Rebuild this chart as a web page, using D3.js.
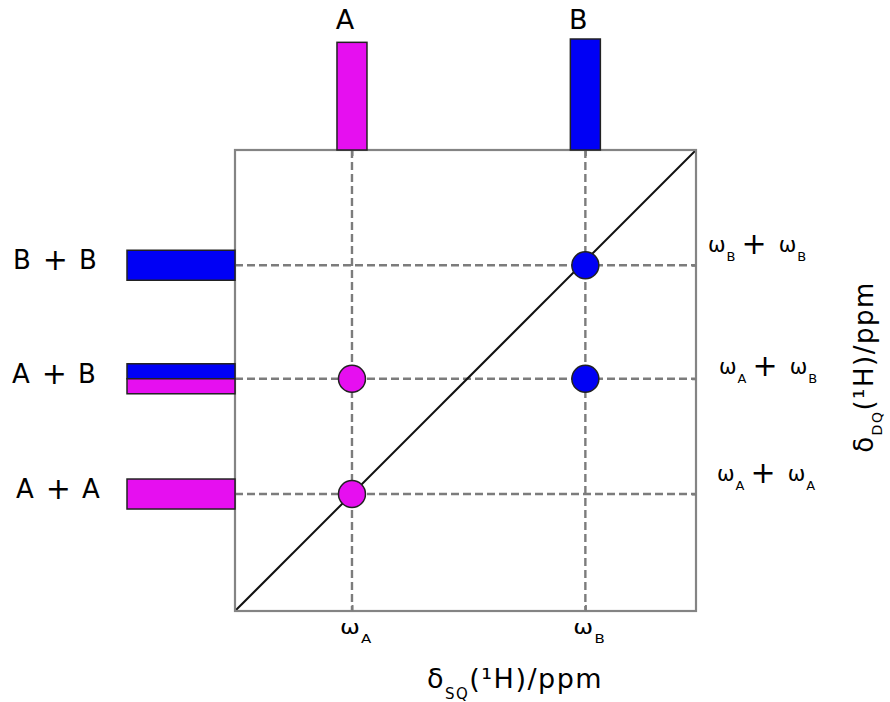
<!DOCTYPE html>
<html>
<head>
<meta charset="utf-8">
<script src="https://cdn.jsdelivr.net/npm/d3@7"></script>
<style>
  body { margin: 0; background: #fff; }
  text { font-family: "DejaVu Sans", Verdana, sans-serif; fill: #000; }
</style>
</head>
<body>
<svg id="chart"></svg>
<script>
// single-quantum sites
const sqLabels = ['A', 'B'];
const sqShift = [1.015, 3.04];       // ppm
const sqIntensity = [0.97, 1.0];

// double-quantum pairs
const dqLabels = ['A + A', 'A + B', 'B + B'];
const dqShift = [2.03, 4.03, 6.0];   // ppm
const dqParts = [['A'], ['B', 'A'], ['B']];
const dqIntensity = [1, 1, 1];

// correlation peaks (sq site, dq pair)
const peakSQ = ['A', 'A', 'B', 'B'];
const peakDQ = ['A + A', 'A + B', 'A + B', 'B + B'];

const colors = { A: '#e60ff0', B: '#0000f5' };

const W = 890, H = 702;
const box = { left: 235, right: 696, top: 150, bottom: 611 };
// where the pair labels sit
const leftLabelX = [16, 12, 13];
const rightLabelX = [717, 719, 708];
const rightLabelDy = [-13, -5, -13];

const svg = d3.select('#chart').attr('width', W).attr('height', H);

// scales
const x = d3.scaleLinear().domain([0, 4]).range([box.left, box.right]);
const y = d3.scaleLinear().domain([0, 8]).range([box.bottom, box.top]);
const topBar = d3.scaleLinear().domain([0, 1]).range([0, 111]);
const leftBar = d3.scaleLinear().domain([0, 1]).range([0, 108]);
const sqPos = d3.scaleOrdinal().domain(sqLabels).range(sqShift);
const dqPos = d3.scaleOrdinal().domain(dqLabels).range(dqShift);

const gray = '#7c7c7c';

// dashed guide lines
svg.append('g').selectAll('line')
  .data(sqShift)
  .enter()
  .append('line')
  .attr('x1', d => x(d)).attr('x2', d => x(d))
  .attr('y1', box.top).attr('y2', box.bottom)
  .attr('stroke', gray).attr('stroke-width', 2.4)
  .attr('stroke-dasharray', '8,4');

svg.append('g').selectAll('line')
  .data(dqShift)
  .enter()
  .append('line')
  .attr('x1', box.left).attr('x2', box.right)
  .attr('y1', d => y(d)).attr('y2', d => y(d))
  .attr('stroke', gray).attr('stroke-width', 2.4)
  .attr('stroke-dasharray', '8,4');

// diagonal
svg.append('line')
  .attr('x1', x(0)).attr('y1', y(0))
  .attr('x2', x(4)).attr('y2', y(8))
  .attr('stroke', '#111').attr('stroke-width', 2);

// frame
svg.append('rect')
  .attr('x', box.left).attr('y', box.top)
  .attr('width', box.right - box.left).attr('height', box.bottom - box.top)
  .attr('fill', 'none').attr('stroke', '#848484').attr('stroke-width', 2.2);

// small inner ticks
const tickStyle = g => {
  g.select('.domain').remove();
  g.selectAll('.tick line').attr('stroke', gray).attr('stroke-width', 2);
};
svg.append('g').attr('transform', `translate(0,${box.bottom})`)
  .call(d3.axisBottom(x).tickValues(sqShift).tickSizeInner(-6).tickSizeOuter(0).tickFormat(''))
  .call(tickStyle);
svg.append('g').attr('transform', `translate(0,${box.top})`)
  .call(d3.axisTop(x).tickValues(sqShift).tickSizeInner(-6).tickSizeOuter(0).tickFormat(''))
  .call(tickStyle);
svg.append('g').attr('transform', `translate(${box.right},0)`)
  .call(d3.axisRight(y).tickValues(dqShift).tickSizeInner(-4).tickSizeOuter(0).tickFormat(''))
  .call(tickStyle);

// top projection bars
svg.append('g').selectAll('rect')
  .data(sqLabels)
  .enter()
  .append('rect')
  .attr('x', (d, i) => x(sqShift[i]) - 15)
  .attr('y', (d, i) => box.top - topBar(sqIntensity[i]))
  .attr('width', 30)
  .attr('height', (d, i) => topBar(sqIntensity[i]))
  .attr('fill', d => colors[d])
  .attr('stroke', '#222').attr('stroke-width', 1.5);

svg.append('g').selectAll('text')
  .data(sqLabels)
  .enter()
  .append('text')
  .attr('x', (d, i) => x(sqShift[i]) - 7)
  .attr('y', 29)
  .attr('text-anchor', 'middle')
  .attr('font-size', 27)
  .text(d => d);

// left projection bars (stacked when mixed)
const leftRects = [];
dqLabels.forEach((lab, i) => {
  const parts = dqParts[i];
  const h = 30 / parts.length;
  parts.forEach((p, j) => {
    leftRects.push({ site: p, dq: dqShift[i], amp: dqIntensity[i], off: -15 + j * h, h: h });
  });
});
svg.append('g').selectAll('rect')
  .data(leftRects)
  .enter()
  .append('rect')
  .attr('x', d => box.left - leftBar(d.amp))
  .attr('y', d => y(d.dq) + d.off)
  .attr('width', d => leftBar(d.amp))
  .attr('height', d => d.h)
  .attr('fill', d => colors[d.site])
  .attr('stroke', '#222').attr('stroke-width', 1.5);

dqLabels.forEach((lab, i) => {
  const [a, b] = lab.split(' + ');
  const t = svg.append('text')
    .attr('x', leftLabelX[i])
    .attr('y', y(dqShift[i]) + 4)
    .attr('font-size', 26);
  t.append('tspan').text(a);
  t.append('tspan').attr('font-size', 30).attr('dx', 12).attr('dy', 1).text('+');
  t.append('tspan').attr('dx', 11).attr('dy', -1).text(b);
});

// peaks
svg.append('g').selectAll('circle')
  .data(peakSQ)
  .enter()
  .append('circle')
  .attr('cx', d => x(sqPos(d)))
  .attr('cy', (d, i) => y(dqPos(peakDQ[i])))
  .attr('r', 13.5)
  .attr('fill', d => colors[d])
  .attr('stroke', '#222').attr('stroke-width', 1.5);

// ω with subscript
const omega = (sel, site, size, subSize, dx) => {
  sel.append('tspan').attr('font-size', size).attr('dx', dx || 0).text('\u03c9');
  sel.append('tspan').attr('font-size', subSize).attr('dx', 1).attr('dy', 9).text(site);
};

// omega labels under the x ticks
sqLabels.forEach((s, i) => {
  const x0 = x(sqShift[i]) - 12;
  const t = svg.append('text')
    .attr('x', x0)
    .attr('y', 634)
    .attr('transform', `translate(${x0},0) scale(1.25,1) translate(${-x0},0)`);
  omega(t, s, 19, 12);
});

// right-hand pair labels
dqLabels.forEach((lab, i) => {
  const [a, b] = lab.split(' + ');
  const t = svg.append('text')
    .attr('x', rightLabelX[i])
    .attr('y', y(dqShift[i]) + rightLabelDy[i]);
  omega(t, a, 21, 13);
  t.append('tspan').attr('font-size', 30).attr('dx', 6).attr('dy', -7).text('+');
  t.append('tspan').attr('font-size', 21).attr('dx', 12).attr('dy', -2).text('\u03c9');
  t.append('tspan').attr('font-size', 13).attr('dx', 1).attr('dy', 9).text(b);
});

// axis titles
const xt = svg.append('text')
  .attr('x', 515).attr('y', 688)
  .attr('text-anchor', 'middle')
  .attr('font-size', 27)
  .attr('letter-spacing', 1.5);
xt.append('tspan').text('\u03b4');
xt.append('tspan').attr('font-size', 15).attr('dy', 11).text('SQ');
xt.append('tspan').attr('dy', -11).text('(\u00b9H)/ppm');

const yt = svg.append('text')
  .attr('transform', 'translate(873,367) rotate(-90)')
  .attr('text-anchor', 'middle')
  .attr('font-size', 26)
  .attr('letter-spacing', 1.5);
yt.append('tspan').text('\u03b4');
yt.append('tspan').attr('font-size', 14).attr('dy', 9).text('DQ');
yt.append('tspan').attr('dy', -9).text('(\u00b9H)/ppm');
</script>
</body>
</html>
